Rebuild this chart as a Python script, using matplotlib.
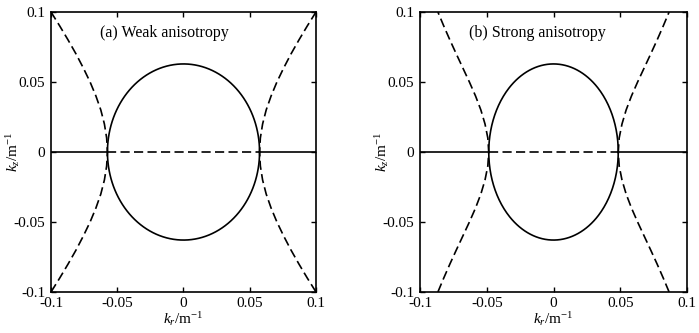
import numpy as np
import matplotlib
matplotlib.use("Agg")
import matplotlib.pyplot as plt

plt.rcParams['font.family'] = ['Liberation Serif', 'DejaVu Serif']
plt.rcParams['mathtext.fontset'] = 'custom'
plt.rcParams['mathtext.rm'] = 'Liberation Serif'
plt.rcParams['mathtext.it'] = 'Liberation Serif:italic'

# Data
panel_titles = ["(a) Weak anisotropy", "(b) Strong anisotropy"]
ellipse_kr_semi = [0.0574, 0.0485]     # ellipse half-width along k_r
ellipse_kz_semi = [0.0629, 0.0629]     # ellipse half-height along k_z
# dashed branch (upper-right quarter), mirrored to the other quadrants
branch_kz = [0.0, 0.01, 0.02, 0.03, 0.04, 0.05, 0.06, 0.07, 0.08, 0.09, 0.10]
branch_kr_a = [0.0574, 0.0580, 0.0597, 0.0624, 0.0661, 0.0705, 0.0756, 0.0811, 0.0871, 0.0934, 0.1000]
branch_kr_b = [0.0485, 0.0492, 0.0513, 0.0544, 0.0584, 0.0630, 0.0679, 0.0728, 0.0776, 0.0822, 0.0866]
branches = [branch_kr_a, branch_kr_b]
ticks = [-0.1, -0.05, 0, 0.05, 0.1]
tick_labels = ["-0.1", "-0.05", "0", "0.05", "0.1"]

fig = plt.figure(figsize=(6.99, 3.33), dpi=100)
positions = [[51/699, 41/333, 265/699, 280/333], [420/699, 41/333, 267/699, 280/333]]

lw = 1.2
dash = (5.5, 2.6)
fs = 11
for i in range(2):
    ax = fig.add_axes(positions[i])
    a = ellipse_kr_semi[i]
    c = ellipse_kz_semi[i]
    t = np.linspace(0, 2*np.pi, 400)
    ax.plot(a*np.cos(t), c*np.sin(t), color='black', lw=lw)
    kz = np.array(branch_kz)
    kr = np.array(branches[i])
    full_kz = np.concatenate([-kz[::-1], kz[1:]])
    full_kr = np.concatenate([kr[::-1], kr[1:]])
    ax.plot(full_kr, full_kz, color='black', lw=lw, dashes=dash)
    ax.plot(-full_kr, full_kz, color='black', lw=lw, dashes=dash)
    # horizontal line
    ax.plot([-0.1, -a], [0, 0], color='black', lw=lw)
    ax.plot([a, 0.1], [0, 0], color='black', lw=lw)
    ax.plot([-a, a], [0, 0], color='black', lw=lw, dashes=dash)

    ax.set_xlim(-0.1, 0.1)
    ax.set_ylim(-0.1, 0.1)
    ax.set_xticks(ticks)
    ax.set_xticklabels(tick_labels)
    ax.set_yticks(ticks)
    ax.set_yticklabels(tick_labels)
    ax.tick_params(direction='in', length=3.5, width=1, top=True, right=True,
                   labelsize=fs, colors='black')
    ax.tick_params(axis='x', pad=3.5)
    ax.tick_params(axis='y', pad=4)
    for s in ax.spines.values():
        s.set_linewidth(1.2)
    ax.set_xlabel(r'$k_r$/m$^{-1}$', fontsize=fs, labelpad=0)
    ax.set_ylabel(r'$k_z$/m$^{-1}$', fontsize=fs, va='center')
    ax.yaxis.set_label_coords(-0.143, 0.5)
    ax.text(-0.063, 0.085, panel_titles[i], fontsize=11.5, va='center', ha='left')

fig.savefig("out.png", dpi=100)
